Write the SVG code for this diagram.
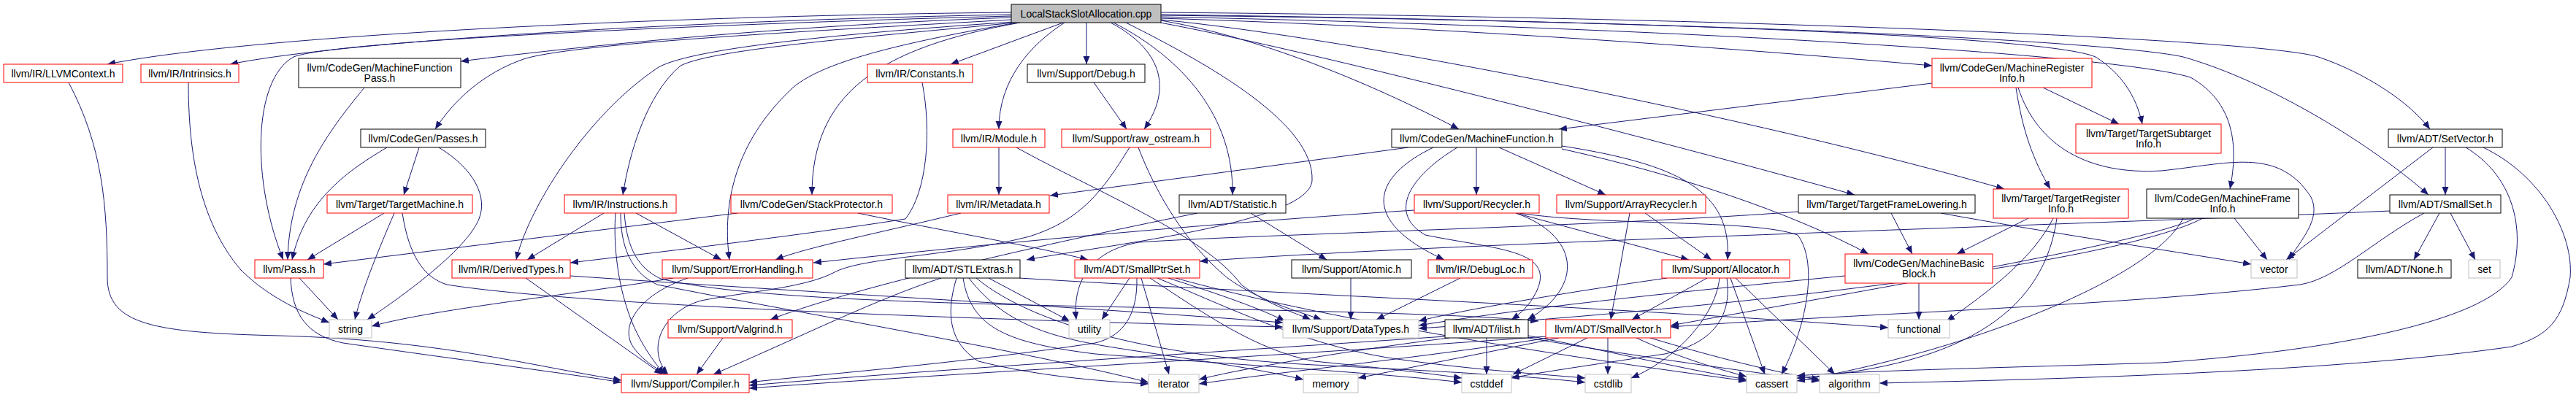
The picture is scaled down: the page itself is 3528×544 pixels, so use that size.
<svg xmlns="http://www.w3.org/2000/svg" width="3528" height="544" viewBox="0 0 3528 544">
<style>
.e path{fill:none;stroke:#191970;stroke-width:1;marker-end:url(#ah)}
.n rect{fill:#fff;stroke-width:1}
.r rect{stroke:#ff0000}
.k rect{stroke:#000}
.g rect{stroke:#bfbfbf}
.root rect{fill:#bfbfbf;stroke:#000}
text{font-family:"Liberation Sans",Arial,sans-serif;font-size:14px;text-anchor:middle;fill:#000}
</style>
<defs>
<marker id="ah" markerUnits="userSpaceOnUse" markerWidth="12" markerHeight="10" refX="11" refY="4.5" orient="auto"><path d="M0,0 L11,4.5 L0,9 z" fill="#191970"/></marker>
</defs>
<rect width="3528" height="544" fill="#fff"/>
<g id="edges" class="e">
<path d="M1385,17 C900,22 350,48 147,88"/>
<path d="M1385,20 C950,28 480,55 315,88"/>
<path d="M1385,24 C1100,34 820,60 631,84"/>
<path d="M1385,27 C1120,42 800,58 720,80 C660,100 620,140 596,177"/>
<path d="M1385,22 C1000,32 460,55 402,78 C345,110 345,250 388,356"/>
<path d="M1390,31 C1200,50 980,66 932,90 C885,130 862,210 853,267"/>
<path d="M1388,30 C1150,46 950,66 902,92 C800,160 722,290 707,356"/>
<path d="M1393,31 C1250,56 1130,82 1086,120 C1000,200 990,290 999,356"/>
<path d="M1397,31 C1200,66 1112,130 1112,267"/>
<path d="M1456,31 L1302,88"/>
<path d="M1458,31 C1410,62 1368,110 1368,177"/>
<path d="M1488,31 L1488,88"/>
<path d="M1521,31 C1580,62 1612,112 1567,177"/>
<path d="M1525,31 C1620,80 1690,160 1688,267"/>
<path d="M1542,31 C1660,90 1800,170 1797,247 C1795,305 1520,335 1406,356"/>
<path d="M1590,28 C1720,50 1870,110 1998,177"/>
<path d="M1590,25 C2000,38 2400,68 2646,90"/>
<path d="M1590,20 C2200,28 2800,48 2870,78 C2905,100 2926,132 2934,170"/>
<path d="M1590,17 C2400,24 3100,54 3175,78 C3240,100 3300,140 3328,177"/>
<path d="M1590,21 C2400,30 2900,58 2990,78 C3110,112 3250,200 3326,267"/>
<path d="M1590,23 C2300,38 2900,75 3000,106 C3060,140 3066,200 3054,259"/>
<path d="M1590,27 C1850,52 2400,160 2745,259"/>
<path d="M1589,31 C1800,70 2300,200 2540,267"/>
<path d="M94,113 C140,200 147,280 147,380 C147,445 210,456 383,460 C600,466 720,500 851,521"/>
<path d="M258,113 C258,200 270,300 330,370 C370,410 420,430 451,442"/>
<path d="M499,120 C450,180 396,250 394,356"/>
<path d="M530,202 C480,232 418,272 400,356"/>
<path d="M574,202 L553,267"/>
<path d="M601,202 C650,232 668,270 656,300 C640,340 560,400 503,438"/>
<path d="M526,292 L421,356"/>
<path d="M540,292 C515,350 495,400 486,438"/>
<path d="M551,292 C560,350 580,380 612,390 C800,420 1400,440 1757,448"/>
<path d="M827,292 L722,356"/>
<path d="M871,292 L988,356"/>
<path d="M843,292 C840,330 845,380 858,420 C870,460 892,492 910,513"/>
<path d="M850,292 C850,335 862,372 900,390 C1100,430 1400,480 1573,524"/>
<path d="M855,292 C858,330 868,365 905,382 C1000,405 1200,414 1500,420 C1800,426 2000,430 2107,440"/>
<path d="M1010,292 L443,362"/>
<path d="M1175,292 C1300,318 1420,338 1490,356"/>
<path d="M1263,113 C1276,180 1270,262 1240,300 C1100,322 900,346 781,360"/>
<path d="M1498,113 L1543,177"/>
<path d="M1368,202 L1368,267"/>
<path d="M1392,202 C1500,262 1650,322 1700,390 C1740,420 1778,430 1795,438"/>
<path d="M1547,202 C1510,262 1480,302 1410,324 C1300,352 1180,352 1141,374 C1100,395 1020,400 960,412 C905,428 885,480 915,513"/>
<path d="M1559,202 C1582,262 1622,332 1680,380 C1720,410 1772,425 1810,438"/>
<path d="M1929,202 L1438,268"/>
<path d="M1963,202 C1880,242 1860,302 1978,356"/>
<path d="M1996,202 C1930,242 1900,292 1952,322 C2050,342 2132,342 2104,400 C2094,420 2082,430 2070,438"/>
<path d="M2022,202 L2022,267"/>
<path d="M2053,202 L2199,267"/>
<path d="M2139,200 C2300,225 2372,262 2366,356"/>
<path d="M2139,204 C2300,240 2450,290 2559,348"/>
<path d="M2076,292 L2313,356"/>
<path d="M2076,292 C2162,322 2172,392 2092,438"/>
<path d="M1937,288 C1600,310 1300,340 1114,360"/>
<path d="M2080,292 C2200,310 2400,300 2462,322 C2492,362 2472,452 2440,513"/>
<path d="M2232,292 L2206,438"/>
<path d="M2253,292 L2344,356"/>
<path d="M1316,292 C1200,320 1100,340 1062,356"/>
<path d="M1713,292 L1817,356"/>
<path d="M1640,292 C1400,340 1150,400 1055,438"/>
<path d="M1547,381 L1509,438"/>
<path d="M1557,381 C1558,430 1540,460 1500,470 C1300,500 1100,515 1026,524"/>
<path d="M1563,381 L1601,513"/>
<path d="M1600,381 C1660,400 1720,420 1760,440"/>
<path d="M1575,381 C1650,430 1720,480 1800,495 C1900,505 1960,512 2002,518"/>
<path d="M1585,381 C1680,420 1780,470 1900,490 C2000,505 2100,512 2171,518"/>
<path d="M1610,381 C1750,420 2000,470 2392,522"/>
<path d="M1289,381 C1200,410 1100,460 977,513"/>
<path d="M1310,381 C1295,430 1300,470 1340,495 C1420,515 1500,522 1573,526"/>
<path d="M1354,381 L1465,440"/>
<path d="M1319,381 C1330,450 1380,470 1500,485 C1700,500 1900,512 2002,524"/>
<path d="M1327,381 C1380,450 1450,465 1550,480 C1650,495 1720,505 1785,520"/>
<path d="M1337,381 C1420,450 1600,490 1800,500 C2000,510 2100,516 2171,524"/>
<path d="M1396,381 C1700,400 2200,420 2586,449"/>
<path d="M1979,461 C1700,480 1300,505 1026,528"/>
<path d="M1985,463 C1850,480 1700,505 1642,520"/>
<path d="M2036,463 L2036,513"/>
<path d="M2093,460 C2200,480 2300,505 2392,520"/>
<path d="M2093,463 C2250,490 2400,510 2492,522"/>
<path d="M2117,461 C1800,485 1300,512 1026,532"/>
<path d="M2120,463 C1950,490 1750,510 1642,526"/>
<path d="M2135,463 C2050,480 1950,500 1860,518"/>
<path d="M2174,463 L2072,513"/>
<path d="M2202,463 L2202,513"/>
<path d="M2241,463 C2300,490 2350,505 2392,516"/>
<path d="M2260,463 C2350,490 2430,510 2492,520"/>
<path d="M2338,381 L2235,438"/>
<path d="M2283,381 C2150,400 2000,425 1943,440"/>
<path d="M2370,381 L2417,513"/>
<path d="M2377,381 L2513,513"/>
<path d="M2355,381 C2350,430 2300,490 2234,518"/>
<path d="M2365,381 C2372,430 2350,470 2280,485 C2180,500 2110,510 2070,518"/>
<path d="M2628,388 L2628,438"/>
<path d="M2527,378 C2300,400 2100,420 1943,446"/>
<path d="M2590,292 L2619,348"/>
<path d="M2658,292 C2800,318 2950,340 3083,362"/>
<path d="M2463,290 C2200,310 1700,322 1560,332 C1500,342 1468,380 1474,438"/>
<path d="M2778,299 L2680,348"/>
<path d="M2812,299 C2790,342 2750,382 2666,440"/>
<path d="M2817,299 C2800,420 2700,500 2461,518"/>
<path d="M3060,299 L3105,356"/>
<path d="M3006,299 C2950,330 2600,390 2288,446"/>
<path d="M3017,299 C2900,360 2400,420 1943,450"/>
<path d="M2990,299 C2950,380 2700,480 2461,522"/>
<path d="M2646,114 L2135,177"/>
<path d="M2761,120 C2770,180 2785,220 2808,259"/>
<path d="M2798,120 L2902,170"/>
<path d="M2764,120 C2790,200 2860,240 2960,234 C3050,225 3120,200 3165,270 C3180,300 3150,330 3135,356"/>
<path d="M3349,202 L3349,267"/>
<path d="M3332,202 L3131,356"/>
<path d="M3377,202 C3440,240 3460,310 3440,380 C3400,440 3200,480 2960,497 C2700,505 2550,508 2461,515"/>
<path d="M3401,202 C3480,240 3525,320 3520,380 C3510,440 3490,460 3440,475 C3200,510 2800,520 2574,525"/>
<path d="M3341,292 L3306,356"/>
<path d="M3356,292 L3390,356"/>
<path d="M3273,289 C2800,310 2000,332 1643,358"/>
<path d="M3320,292 C3250,330 3200,382 3150,390 C2900,420 2500,432 2288,448"/>
<path d="M410,381 L463,438"/>
<path d="M398,381 C400,430 420,460 470,470 C650,496 780,512 851,524"/>
<path d="M720,381 L907,513"/>
<path d="M781,378 C1100,400 1500,422 1757,442"/>
<path d="M922,381 C800,402 600,422 509,447"/>
<path d="M942,381 C880,402 850,442 865,472 C880,496 902,506 913,513"/>
<path d="M990,463 L954,513"/>
<path d="M1850,381 L1850,438"/>
<path d="M2000,381 L1885,438"/>
</g>
<g id="n_root" class="n root"><rect x="1385" y="6" width="205" height="25"/><text x="1487.5" y="23.5">LocalStackSlotAllocation.cpp</text></g>
<g id="n_llvmcontext" class="n r"><rect x="5" y="88" width="163" height="25"/><text x="86.5" y="105.5">llvm/IR/LLVMContext.h</text></g>
<g id="n_intrinsics" class="n r"><rect x="193" y="88" width="134" height="25"/><text x="260" y="105.5">llvm/IR/Intrinsics.h</text></g>
<g id="n_mfpass" class="n k"><rect x="409" y="80" width="222" height="40"/><text x="520" y="97.5">llvm/CodeGen/MachineFunction</text><text x="520" y="111.5">Pass.h</text></g>
<g id="n_constants" class="n r"><rect x="1188" y="88" width="144" height="25"/><text x="1260" y="105.5">llvm/IR/Constants.h</text></g>
<g id="n_debug" class="n k"><rect x="1407" y="88" width="161" height="25"/><text x="1487.5" y="105.5">llvm/Support/Debug.h</text></g>
<g id="n_mri" class="n r"><rect x="2646" y="80" width="219" height="40"/><text x="2755.5" y="97.5">llvm/CodeGen/MachineRegister</text><text x="2755.5" y="111.5">Info.h</text></g>
<g id="n_tsi" class="n r"><rect x="2843" y="170" width="199" height="40"/><text x="2942.5" y="187.5">llvm/Target/TargetSubtarget</text><text x="2942.5" y="201.5">Info.h</text></g>
<g id="n_passes" class="n k"><rect x="494" y="177" width="171" height="25"/><text x="579.5" y="194.5">llvm/CodeGen/Passes.h</text></g>
<g id="n_module" class="n r"><rect x="1305" y="177" width="126" height="25"/><text x="1368" y="194.5">llvm/IR/Module.h</text></g>
<g id="n_rawostream" class="n r"><rect x="1454" y="177" width="204" height="25"/><text x="1556" y="194.5">llvm/Support/raw_ostream.h</text></g>
<g id="n_mf" class="n k"><rect x="1906" y="177" width="233" height="25"/><text x="2022.5" y="194.5">llvm/CodeGen/MachineFunction.h</text></g>
<g id="n_setvector" class="n k"><rect x="3271" y="177" width="156" height="25"/><text x="3349" y="194.5">llvm/ADT/SetVector.h</text></g>
<g id="n_tm" class="n r"><rect x="448" y="267" width="199" height="25"/><text x="547.5" y="284.5">llvm/Target/TargetMachine.h</text></g>
<g id="n_instructions" class="n r"><rect x="773" y="267" width="153" height="25"/><text x="849.5" y="284.5">llvm/IR/Instructions.h</text></g>
<g id="n_stackprotector" class="n r"><rect x="1001" y="267" width="221" height="25"/><text x="1111.5" y="284.5">llvm/CodeGen/StackProtector.h</text></g>
<g id="n_metadata" class="n r"><rect x="1298" y="267" width="139" height="25"/><text x="1367.5" y="284.5">llvm/IR/Metadata.h</text></g>
<g id="n_statistic" class="n k"><rect x="1615" y="267" width="146" height="25"/><text x="1688" y="284.5">llvm/ADT/Statistic.h</text></g>
<g id="n_recycler" class="n r"><rect x="1937" y="267" width="171" height="25"/><text x="2022.5" y="284.5">llvm/Support/Recycler.h</text></g>
<g id="n_arrayrecycler" class="n r"><rect x="2132" y="267" width="204" height="25"/><text x="2234" y="284.5">llvm/Support/ArrayRecycler.h</text></g>
<g id="n_tfl" class="n k"><rect x="2463" y="267" width="242" height="25"/><text x="2584" y="284.5">llvm/Target/TargetFrameLowering.h</text></g>
<g id="n_tri" class="n r"><rect x="2730" y="259" width="185" height="40"/><text x="2822.5" y="276.5">llvm/Target/TargetRegister</text><text x="2822.5" y="290.5">Info.h</text></g>
<g id="n_mfi" class="n k"><rect x="2940" y="259" width="208" height="40"/><text x="3044" y="276.5">llvm/CodeGen/MachineFrame</text><text x="3044" y="290.5">Info.h</text></g>
<g id="n_smallset" class="n k"><rect x="3273" y="267" width="152" height="25"/><text x="3349" y="284.5">llvm/ADT/SmallSet.h</text></g>
<g id="n_pass" class="n r"><rect x="349" y="356" width="94" height="25"/><text x="396" y="373.5">llvm/Pass.h</text></g>
<g id="n_derivedtypes" class="n r"><rect x="619" y="356" width="162" height="25"/><text x="700" y="373.5">llvm/IR/DerivedTypes.h</text></g>
<g id="n_errorhandling" class="n r"><rect x="907" y="356" width="206" height="25"/><text x="1010" y="373.5">llvm/Support/ErrorHandling.h</text></g>
<g id="n_stlextras" class="n k"><rect x="1240" y="356" width="157" height="25"/><text x="1318.5" y="373.5">llvm/ADT/STLExtras.h</text></g>
<g id="n_smallptrset" class="n r"><rect x="1472" y="356" width="171" height="25"/><text x="1557.5" y="373.5">llvm/ADT/SmallPtrSet.h</text></g>
<g id="n_atomic" class="n k"><rect x="1769" y="356" width="164" height="25"/><text x="1851" y="373.5">llvm/Support/Atomic.h</text></g>
<g id="n_debugloc" class="n r"><rect x="1956" y="356" width="143" height="25"/><text x="2027.5" y="373.5">llvm/IR/DebugLoc.h</text></g>
<g id="n_allocator" class="n r"><rect x="2276" y="356" width="175" height="25"/><text x="2363.5" y="373.5">llvm/Support/Allocator.h</text></g>
<g id="n_mbb" class="n r"><rect x="2527" y="348" width="202" height="40"/><text x="2628" y="365.5">llvm/CodeGen/MachineBasic</text><text x="2628" y="379.5">Block.h</text></g>
<g id="n_vector" class="n g"><rect x="3083" y="356" width="63" height="25"/><text x="3114.5" y="373.5">vector</text></g>
<g id="n_none" class="n k"><rect x="3229" y="356" width="128" height="25"/><text x="3293" y="373.5">llvm/ADT/None.h</text></g>
<g id="n_set" class="n g"><rect x="3381" y="356" width="43" height="25"/><text x="3402.5" y="373.5">set</text></g>
<g id="n_string" class="n g"><rect x="451" y="438" width="58" height="25"/><text x="480" y="455.5">string</text></g>
<g id="n_valgrind" class="n r"><rect x="915" y="438" width="170" height="25"/><text x="1000" y="455.5">llvm/Support/Valgrind.h</text></g>
<g id="n_utility" class="n g"><rect x="1464" y="438" width="56" height="25"/><text x="1492" y="455.5">utility</text></g>
<g id="n_datatypes" class="n g"><rect x="1757" y="438" width="186" height="25"/><text x="1850" y="455.5">llvm/Support/DataTypes.h</text></g>
<g id="n_ilist" class="n k"><rect x="1979" y="438" width="114" height="25"/><text x="2036" y="455.5">llvm/ADT/ilist.h</text></g>
<g id="n_smallvector" class="n r"><rect x="2117" y="438" width="171" height="25"/><text x="2202.5" y="455.5">llvm/ADT/SmallVector.h</text></g>
<g id="n_functional" class="n g"><rect x="2586" y="438" width="84" height="25"/><text x="2628" y="455.5">functional</text></g>
<g id="n_compiler" class="n r"><rect x="851" y="513" width="175" height="25"/><text x="938.5" y="530.5">llvm/Support/Compiler.h</text></g>
<g id="n_iterator" class="n g"><rect x="1573" y="513" width="69" height="25"/><text x="1607.5" y="530.5">iterator</text></g>
<g id="n_memory" class="n g"><rect x="1785" y="513" width="75" height="25"/><text x="1822.5" y="530.5">memory</text></g>
<g id="n_cstddef" class="n g"><rect x="2002" y="513" width="68" height="25"/><text x="2036" y="530.5">cstddef</text></g>
<g id="n_cstdlib" class="n g"><rect x="2171" y="513" width="63" height="25"/><text x="2202.5" y="530.5">cstdlib</text></g>
<g id="n_cassert" class="n g"><rect x="2392" y="513" width="69" height="25"/><text x="2426.5" y="530.5">cassert</text></g>
<g id="n_algorithm" class="n g"><rect x="2492" y="513" width="82" height="25"/><text x="2533" y="530.5">algorithm</text></g>
</svg>
